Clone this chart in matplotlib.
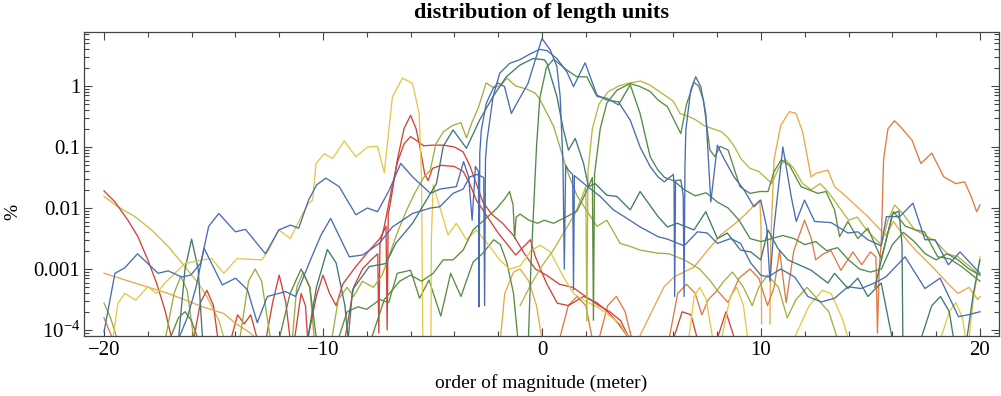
import numpy as np
import matplotlib
matplotlib.use("Agg")
import matplotlib.pyplot as plt
from matplotlib.ticker import FixedLocator, LogLocator, NullFormatter, FixedFormatter

plt.rcParams['font.family'] = ['Liberation Serif', 'DejaVu Serif']
plt.rcParams['mathtext.fontset'] = 'custom'
plt.rcParams['mathtext.rm'] = 'Liberation Serif'
plt.rcParams['mathtext.it'] = 'Liberation Serif:italic'

NAN = (np.nan, np.nan)

# each series: (order of magnitude, log10 of percent), NAN = gap where the share is zero
blue_a = [(-20.0, -4.03), (-19.5, -3.07), (-19.05, -2.98), (-18.47, -2.75), (-17.53, -3.07), (-17.07, -3.03),
          (-16.46, -3.13), (-16.04, -3.10), (-15.58, -2.9), (-15.22, -2.3), (-14.76, -2.09), (-14.0, -2.39),
          (-13.54, -2.35), (-12.63, -2.75), (-12.02, -2.36), (-11.49, -2.28), (-11.11, -2.33), (-10.66, -1.87),
          (-10.29, -1.62), (-9.87, -1.51), (-9.26, -1.65), (-8.5, -2.11), (-7.97, -2.0), (-7.51, -2.06),
          (-6.98, -1.71), (-6.45, -1.27), (-5.91, -1.49), (-5.09, -1.76), (-4.67, -1.69), (-3.91, -1.65),
          (-3.58, -1.24), (-3.35, -1.49), (-3.19, -2.2), (-3.04, -1.32), (-2.9, -1.4), (-2.87, -3.62),
          (-2.84, -1.1), (-2.77, -0.72), (-2.54, -0.28), (-2.23, -0.04), (-2.01, 0.05), (-1.71, -0.01),
          (-1.4, -0.45), (-1.02, -0.2), (-0.64, 0.04), (-0.26, 0.48), (0.0, 0.78), (0.38, 0.59), (0.68, 0.32),
          (0.83, -0.17), (0.96, -1.27), (1.02, -3.0), (1.08, -1.3), (1.21, -1.38), (1.4, -1.45), (1.44, -3.34),
          (1.48, -1.47), (2.05, -1.64), (2.66, -1.81), (3.26, -2.03), (3.88, -2.17), (4.48, -2.31), (5.3, -2.47),
          (5.73, -2.51), (6.49, -2.62), (7.1, -2.39), (7.55, -2.41), (8.01, -2.58), (8.62, -2.5), (9.07, -2.58),
          (9.53, -2.9), (9.99, -3.1), (10.32, -3.13), (10.9, -3.0), (11.54, -3.13), (12.14, -3.45), (12.75, -3.54),
          (13.36, -3.48), (13.97, -3.29), (14.57, -3.32), (15.18, -3.23), (15.7, -3.13), (16.58, -2.8),
          (17.49, -3.32), (18.18, -3.15), (19.02, -3.78), (19.47, -3.75), (20.0, -3.7)]

blue_b = [(-16.6, -4.15), (-16.2, -3.8), (-15.8, -3.3), (-15.43, -2.66), (-14.6, -3.26), (-13.99, -3.15),
          (-13.45, -3.34), (-13.0, -3.88), (-12.54, -3.45), (-11.71, -3.37), (-11.25, -3.45), (-10.57, -2.85),
          (-10.1, -2.45), (-9.65, -2.17), (-9.03, -2.63), (-8.8, -2.8), (-8.19, -2.77), (-7.43, -2.58),
          (-6.83, -2.31), (-5.91, -2.09), (-5.09, -2.0), (-4.67, -1.98), (-4.06, -1.76), (-3.6, -1.69),
          (-3.3, -1.49), (-2.95, -1.45), (-2.66, -1.5), (-2.62, -3.6), (-2.58, -1.2), (-2.51, -0.89),
          (-2.23, -0.17), (-1.93, 0.21), (-1.48, 0.37), (-1.02, 0.43), (-0.57, 0.52), (-0.11, 0.6), (0.23, 0.58),
          (0.68, 0.45), (1.14, 0.23), (1.44, -0.01), (1.97, 0.38), (2.51, -0.15), (2.96, -0.23), (3.49, -0.26),
          (4.03, -0.56), (4.48, -1.0), (4.94, -1.32), (5.3, -1.49), (5.58, -1.57), (6.0, -1.45), (6.03, -1.6),
          (6.06, -3.45), (6.1, -1.55), (6.34, -1.54), (6.45, -1.8), (6.49, -3.45), (6.53, -1.3), (6.57, -0.72),
          (6.79, -0.07), (7.02, 0.15), (7.25, -0.01), (7.48, -0.45), (7.71, -1.9), (8.01, -0.97), (8.31, -1.19),
          (8.77, -1.49), (9.22, -1.7), (9.68, -1.98), (9.99, -1.87), (10.26, -2.31), (10.41, -3.2), (10.6, -2.3),
          (11.0, -1.0), (11.38, -1.81), (11.61, -2.22), (11.99, -1.87), (12.45, -2.22), (13.21, -2.24),
          (13.97, -2.41), (14.42, -2.39), (14.88, -2.52), (15.49, -2.62), (15.73, -2.14), (16.34, -2.14),
          (16.94, -1.92), (17.49, -2.52), (17.95, -2.52), (18.56, -2.93), (19.09, -2.72), (20.0, -3.07)]

teal_a = [(-10.7, -4.15), (-10.3, -3.3), (-9.8, -2.68), (-9.4, -2.9), (-9.0, -3.6), (-8.85, -4.15),
          (-8.65, -3.34), (-7.89, -2.96), (-7.13, -2.91), (-6.68, -2.58), (-5.91, -2.25), (-5.46, -1.98),
          (-5.09, -1.76), (-4.82, -1.6), (-4.51, -0.99), (-4.06, -0.72), (-3.45, -1.02), (-2.85, -0.56),
          (-2.23, -0.17), (-1.63, 0.15), (-1.02, 0.34), (-0.41, 0.45), (0.1, 0.43), (0.23, 0.37), (0.68, -0.17),
          (0.98, -0.72), (1.21, -1.05), (1.52, -0.86), (1.9, -1.27), (2.12, -1.65), (2.43, -1.6), (2.96, -1.79),
          (3.42, -1.81), (4.03, -2.03), (4.48, -1.73), (4.86, -1.92), (5.3, -2.14), (5.73, -2.31), (6.18, -2.25),
          (6.94, -2.36), (7.48, -2.06), (8.01, -2.5), (8.46, -2.41), (9.07, -2.69), (9.53, -2.72), (9.99, -2.85),
          (10.32, -2.36), (10.77, -2.66), (11.23, -2.85), (12.29, -3.02), (13.06, -3.23), (13.36, -3.07),
          (13.97, -3.32), (14.42, -3.15), (14.88, -3.45), (15.49, -3.23), (16.0, -4.15)]

teal_b = [(-16.6, -4.15), (-16.3, -3.0), (-16.0, -2.51), (-15.7, -3.0), (-15.5, -4.15), NAN,
          (15.2, -3.3), (15.6, -2.7), (16.0, -2.1), (16.3, -2.05), (16.44, -2.6), (16.48, -4.15), NAN,
          (17.3, -4.15), (17.8, -3.6), (18.2, -3.45), (18.6, -3.7), (18.8, -4.15), NAN,
          (19.4, -4.15), (19.7, -3.4), (20.0, -2.85)]

green_a = [(-0.62, -4.15), (-0.5, -2.9), (-0.38, -2.0), (-0.25, -1.0), (-0.1, -0.2), (0.2, 0.3), (0.53, 0.44),
           (1.14, 0.26), (1.6, 0.15), (2.05, 0.15), (2.51, -0.17), (2.96, -0.2), (3.49, -0.31), (4.03, 0.02),
           (4.48, -0.45), (4.94, -1.16), (5.3, -1.38), (5.6, -1.5), (6.0, -1.55), (6.5, -1.7), (7.0, -1.8),
           (7.5, -1.75), (8.0, -1.9), (8.5, -2.0), (9.0, -2.2), (9.5, -2.5), (10.0, -2.55), (10.5, -2.5),
           (11.0, -2.45), (11.5, -2.5), (12.0, -2.6), (12.5, -2.55), (13.0, -2.7), (13.5, -2.65), (14.0, -2.85),
           (14.5, -3.0), (15.0, -3.05), (15.5, -3.0), (16.0, -2.6), (16.5, -2.4), (17.0, -2.55), (17.5, -2.75),
           (18.0, -2.85), (18.5, -2.75), (19.0, -2.85), (19.5, -3.0), (20.0, -3.1)]

green_b = [(-7.8, -4.15), (-7.2, -3.5), (-6.5, -3.2), (-6.0, -3.1), (-5.5, -3.2), (-4.97, -3.07), (-4.51, -2.85),
           (-4.06, -2.85), (-3.6, -2.69), (-3.15, -2.36), (-2.65, -2.2), (-2.1, -2.02), (-1.7, -1.85),
           (-1.48, -1.73), (-1.32, -1.95), (-1.25, -2.5), (-1.18, -2.15), (-1.0, -2.1), (-0.6, -2.2), (-0.2, -2.25),
           (0.1, -2.2), (0.53, -2.25), (1.14, -2.14), (1.6, -2.05), (2.0, -1.75), (2.3, -1.5), (2.35, -3.84),
           (2.4, -1.45), (2.46, -1.27), (2.66, -0.7), (2.96, -0.28), (3.42, -0.07), (4.03, 0.04), (4.48, -0.01),
           (4.94, -0.09), (5.3, -0.23), (5.73, -0.34), (6.34, -0.78), (6.6, -0.3), (6.94, 0.06), (7.15, 0.0),
           (7.37, -0.23), (7.67, -1.05), (7.9, -1.16), (8.13, -0.99), (8.5, -1.05), (9.04, -1.65), (9.5, -1.76),
           (9.95, -1.73), (10.32, -1.73), (10.6, -1.4), (10.93, -1.21), (11.3, -1.3), (11.83, -1.65),
           (12.6, -1.76), (12.97, -1.73), (13.36, -2.03), (13.59, -2.47), (13.97, -2.22), (14.42, -2.5),
           (14.88, -2.33), (15.49, -2.83), (16.05, -2.06), (16.6, -2.3), (17.08, -2.36), (17.46, -2.39),
           (18.07, -2.8), (18.6, -2.83), (19.16, -2.96), (20.0, -3.2)]

green_c = [(-9.3, -4.15), (-8.9, -3.7), (-8.4, -3.62), (-8.0, -3.66), (-7.4, -3.5), (-7.0, -3.55), (-6.61, -3.07),
           (-6.0, -3.02), (-5.59, -3.48), (-5.16, -3.18), (-4.62, -3.77), (-4.17, -3.07), (-3.7, -3.45),
           (-3.15, -2.89), (-2.7, -2.74), (-2.2, -2.52), (-1.9, -2.6), (-1.6, -2.9), (-1.3, -3.4), (-1.1, -4.15), NAN,
           (-17.0, -4.15), (-16.6, -3.8), (-16.3, -3.7), (-16.0, -3.85), (-15.7, -4.15), NAN,
           (-12.0, -4.15), (-11.5, -3.4), (-11.0, -3.0), (-10.6, -3.3), (-10.3, -4.15)]

olive_a = [(-9.6, -4.15), (-9.3, -3.5), (-8.9, -3.3), (-8.6, -3.45), (-8.2, -3.2), (-7.7, -3.3), (-7.3, -3.1),
           (-7.0, -2.8), (-6.6, -2.4), (-6.2, -2.05), (-5.8, -1.75), (-5.4, -1.5), (-5.1, -1.38), (-4.85, -0.95),
           (-4.5, -0.75), (-4.1, -0.65), (-3.7, -0.6), (-3.45, -0.85), (-3.2, -0.6), (-2.9, -0.35), (-2.55, 0.05),
           (-2.25, -0.02), (-1.9, 0.0), (-1.6, 0.13), (-1.2, 0.0), (-0.7, -0.05), (-0.3, -0.12), (-0.08, -0.23),
           (0.53, -0.66), (1.14, -1.38), (1.6, -1.8), (2.2, -2.13), (2.51, -2.3), (2.96, -2.2), (3.57, -2.58),
           (4.03, -2.63), (4.48, -2.69), (5.3, -2.74), (5.8, -2.75), (6.5, -2.85), (7.2, -3.0), (7.7, -3.2),
           (8.0, -3.35), (8.3, -3.2), (8.7, -3.05), (9.2, -3.3), (9.6, -3.6), (9.9, -3.3), (10.3, -3.1),
           (10.8, -3.3), (11.2, -3.8), (11.6, -3.5), (12.1, -3.3), (12.6, -3.5), (13.1, -3.7), (13.5, -4.15)]

olive_b = [(-1.0, -3.6), (-0.5, -3.25), (0.0, -2.95), (0.5, -2.7), (1.0, -2.4), (1.5, -2.1), (1.85, -1.8),
           (2.0, -1.65), (2.05, -3.85), (2.1, -1.4), (2.3, -0.7), (2.6, -0.3), (3.0, -0.1), (3.5, 0.0), (4.0, 0.05),
           (4.5, 0.08), (4.9, 0.02), (5.2, -0.05), (5.6, -0.15), (6.0, -0.25), (6.3, -0.45), (6.7, -0.5),
           (7.0, -0.55), (7.4, -0.65), (7.8, -0.7), (8.2, -0.75), (8.5, -0.85), (8.8, -1.0), (9.1, -1.2),
           (9.5, -1.35), (9.9, -1.4), (10.2, -1.5), (10.5, -1.6), (10.8, -1.35), (11.1, -1.2), (11.5, -1.35),
           (11.9, -1.6), (12.3, -1.7), (12.7, -1.6), (13.1, -1.75), (13.5, -1.95), (14.0, -2.2), (14.4, -2.15),
           (14.8, -2.35), (15.2, -2.5), (15.5, -2.6), (15.8, -2.2), (16.1, -1.95), (16.5, -2.1), (17.0, -2.35),
           (17.5, -2.45), (18.0, -2.55), (18.5, -2.75), (19.0, -2.8), (19.5, -2.95), (20.0, -3.1)]

olive_low = [(-20.0, -3.56), (-19.7, -3.8), (-19.4, -4.15), NAN,
             (-17.2, -4.15), (-16.8, -3.4), (-16.5, -3.12), (-16.2, -3.35), (-15.9, -4.15), NAN,
             (-13.8, -4.15), (-13.4, -3.2), (-13.1, -3.0), (-12.8, -3.2), (-12.4, -4.15), NAN,
             (-11.4, -4.15), (-11.2, -3.3), (-10.9, -3.05), (-10.6, -3.3), (-10.4, -4.15)]

yellow_a = [(-19.6, -4.15), (-19.36, -3.56), (-19.05, -3.4), (-18.55, -3.51), (-18.0, -3.29), (-17.6, -3.4),
            (-17.22, -3.23), (-16.31, -2.91), (-15.49, -2.85), (-15.08, -2.83), (-14.53, -3.07), (-13.93, -2.83),
            (-12.79, -2.85), (-12.48, -2.69), (-12.02, -2.36), (-11.49, -2.5), (-11.04, -2.17), (-10.66, -1.92),
            (-10.47, -1.87), (-10.32, -1.27), (-9.94, -1.11), (-9.56, -1.19), (-9.03, -0.9), (-8.5, -1.16),
            (-7.97, -1.0), (-7.51, -0.99), (-7.2, -1.42), (-6.83, -0.18), (-6.37, 0.13), (-5.91, 0.04),
            (-5.61, -0.45), (-5.5, -1.5), (-5.46, -3.4), (-5.44, -4.15), NAN,
            (-5.07, -4.15), (-5.05, -2.5), (-4.97, -1.62), (-4.67, -1.98), (-4.29, -2.44), (-3.91, -2.25),
            (-3.45, -2.52), (-3.0, -2.36), (-2.39, -2.63), (-1.93, -2.85), (-1.48, -3.0), (-1.0, -2.95),
            (-0.5, -2.7), (-0.08, -2.61), (0.38, -2.72), (0.98, -3.13), (1.44, -3.4), (1.9, -3.51), (2.51, -3.62),
            (2.96, -3.73), (3.57, -3.9), (4.0, -4.15)]

yellow_b = [(-20.0, -1.81), (-19.36, -1.98), (-18.59, -2.14), (-17.83, -2.36), (-17.07, -2.63), (-16.31, -2.96),
            (-15.7, -3.23), (-15.3, -3.45), (-14.76, -3.84), (-14.5, -4.15)]

yellow_c = [(6.7, -4.15), (6.95, -3.45), (7.2, -3.3), (7.5, -3.5), (7.8, -4.15), NAN,
            (8.2, -4.15), (8.6, -3.45), (8.9, -3.3), (9.2, -3.6), (9.4, -4.15), NAN,
            (11.5, -4.15), (12.2, -3.6), (12.8, -3.35), (13.2, -3.4), (13.7, -3.8), (14.0, -4.15), NAN,
            (18.2, -4.15), (18.6, -3.7), (18.9, -3.55), (19.2, -3.8), (19.35, -4.15), NAN,
            (19.5, -4.15), (19.7, -3.5), (20.0, -2.8)]

orange_a = [(-20.0, -3.07), (-18.59, -3.23), (-17.07, -3.4), (-15.49, -3.62), (-14.53, -3.73), (-14.0, -3.89),
            (-13.39, -4.03), (-13.0, -4.15), NAN,
            (-1.9, -4.15), (-1.7, -3.4), (-1.3, -3.05), (-1.0, -3.0), (-0.6, -3.2), (-0.25, -3.6), (0.0, -4.15), NAN,
            (4.4, -4.15), (5.12, -3.62), (5.58, -3.29), (6.03, -3.13), (6.94, -2.97), (7.55, -2.7), (8.16, -2.44),
            (8.77, -2.27), (9.3, -2.1), (9.7, -1.95), (9.95, -1.87), (10.0, -2.3), (10.03, -3.9), NAN,
            (10.41, -3.9), (10.45, -2.5), (10.6, -1.2), (10.9, -0.65), (11.3, -0.42), (11.6, -0.45), (11.9, -0.75),
            (12.29, -1.49), (12.52, -1.43), (13.06, -1.38), (13.36, -1.65), (13.82, -1.79), (14.3, -1.95),
            (14.88, -2.14), (15.3, -2.3), (15.7, -2.45), (16.05, -2.22), (16.6, -2.5), (17.08, -2.7),
            (17.84, -2.97), (18.6, -3.26), (19.0, -3.4), (19.5, -3.3), (19.9, -3.5), (20.0, -3.45)]

orange_b = [(-20.0, -3.8), (-19.6, -4.15), NAN,
            (0.8, -4.15), (1.2, -3.6), (1.6, -3.45), (2.0, -3.6), (2.3, -4.15), NAN,
            (2.6, -4.15), (3.0, -3.6), (3.4, -3.45), (3.8, -3.7), (4.1, -4.15), NAN,
            (5.8, -4.15), (6.2, -3.4), (6.6, -3.25), (7.0, -3.4), (7.3, -3.75), (7.6, -3.5), (8.0, -3.35),
            (8.5, -3.55), (9.0, -3.15), (9.5, -3.0), (9.9, -3.15), (10.3, -3.6), (10.6, -3.3), (10.85, -2.7),
            (11.15, -3.55), (11.5, -2.7), (11.99, -2.2), (12.3, -2.5), (12.5, -2.85), (12.85, -2.75), (13.2, -2.7),
            (13.65, -3.02), (14.2, -2.72), (14.6, -2.93), (15.0, -2.72), (15.25, -2.8), (15.32, -4.05), (15.4, -3.0),
            (15.5, -2.5), (15.6, -1.2), (15.8, -0.7), (16.1, -0.57), (16.4, -0.68), (16.9, -0.89), (17.3, -1.27),
            (17.8, -1.1), (18.35, -1.49), (18.9, -1.6), (19.3, -1.57), (19.6, -1.81), (19.85, -2.06), (20.0, -1.95)]

red_a = [(-10.7, -4.15), (-10.3, -3.44), (-10.0, -3.1), (-9.7, -3.4), (-9.4, -3.6), (-9.1, -3.25), (-8.5, -2.96),
         (-7.9, -2.7), (-7.4, -2.5), (-7.12, -2.3), (-7.07, -4.0), (-7.02, -2.1), (-6.9, -1.87), (-6.6, -1.2),
         (-6.3, -0.7), (-6.0, -0.48), (-5.75, -0.7), (-5.6, -0.95), (-5.35, -1.45), (-5.2, -1.55), (-5.0, -1.35),
         (-4.6, -1.3), (-4.0, -1.32), (-3.6, -1.4), (-3.3, -1.6), (-3.0, -1.87), (-2.5, -2.14), (-2.0, -2.41),
         (-1.2, -2.77), (-0.53, -2.52), (-0.3, -2.8), (0.2, -3.23), (0.7, -3.56), (1.2, -3.6), (1.9, -3.45),
         (2.5, -3.55), (3.0, -3.7), (3.5, -3.9), (4.0, -4.15)]

red_b = [(-9.0, -4.15), (-8.6, -3.3), (-8.2, -3.0), (-7.8, -2.85), (-7.5, -2.75), (-7.45, -4.05), (-7.4, -2.6),
         (-7.2, -2.3), (-6.9, -1.75), (-6.6, -1.25), (-6.3, -0.95), (-6.0, -0.83), (-5.7, -0.9), (-5.4, -0.98),
         (-5.0, -0.97), (-4.5, -0.97), (-4.0, -1.0), (-3.6, -1.08), (-3.3, -1.3), (-3.0, -1.6), (-2.7, -1.9),
         (-2.3, -2.1), (-1.8, -2.25), (-1.3, -2.45), (-0.8, -2.75), (-0.3, -3.0), (0.2, -3.1), (0.8, -3.25),
         (1.4, -3.3), (2.0, -3.45), (2.6, -3.6), (3.1, -3.7), (3.6, -3.85), (4.0, -4.15)]

red_c = [(-20.0, -1.72), (-19.5, -1.9), (-18.91, -2.2), (-18.45, -2.47), (-18.0, -2.85), (-17.6, -3.23),
         (-17.22, -3.67), (-17.0, -4.0), (-16.9, -4.15), NAN,
         (-15.9, -4.15), (-15.6, -3.55), (-15.3, -3.35), (-15.0, -3.6), (-14.8, -4.15), NAN,
         (-14.2, -4.15), (-13.9, -3.75), (-13.6, -3.9), (-13.3, -3.75), (-13.0, -4.15), NAN,
         (-12.6, -4.15), (-12.3, -3.55), (-12.0, -3.1), (-11.7, -3.55), (-11.5, -4.15), NAN,
         (-11.3, -4.15), (-11.0, -3.4), (-10.8, -3.6), (-10.7, -4.15), NAN,
         (6.0, -4.15), (6.4, -3.7), (6.8, -3.75), (7.1, -4.15), NAN,
         (8.0, -4.15), (8.4, -3.7), (8.8, -4.15)]

series = [
    (yellow_b, '#c8be4c'), (red_c, '#d2423a'), (orange_a, '#e9a84a'), (orange_b, '#de7b45'),
    (olive_low, '#9aad3e'), (yellow_c, '#e4c84a'), (teal_b, '#3e7a72'), (green_c, '#5b8c3f'),
    (red_a, '#d2423a'), (red_b, '#d2423a'), (yellow_a, '#e4c84a'), (olive_a, '#a2b03f'),
    (olive_b, '#b4b83f'), (green_b, '#5b8c3f'), (teal_a, '#3e7a72'), (green_a, '#4f8a4a'),
    (blue_b, '#4a6cb3'), (blue_a, '#4a6cb3'),
]

fig = plt.figure(figsize=(10.01, 3.96), dpi=100)
ax = fig.add_axes([84.3 / 1001, 1 - 335.7 / 396, (999 - 84.3) / 1001, (335.7 - 31.7) / 396])

for data, color in series:
    arr = np.array(data, dtype=float)
    ax.plot(arr[:, 0], 10 ** arr[:, 1], color=color, lw=0.95, solid_joinstyle='round')

ax.set_yscale('log')
ax.set_xlim(-20.9, 20.87)
ax.set_ylim(10 ** -4.093, 10 ** 0.89)

ax.xaxis.set_major_locator(FixedLocator([-20, -10, 0, 10, 20]))
ax.xaxis.set_major_formatter(FixedFormatter(['\u221220', '\u221210', '0', '10', '20']))
ax.xaxis.set_minor_locator(FixedLocator(np.arange(-20, 21, 2)))
ax.yaxis.set_major_locator(FixedLocator([1e-4, 1e-3, 1e-2, 1e-1, 1]))
ax.yaxis.set_major_formatter(FixedFormatter(['$10^{\u22124}$', '0.001', '0.01', '0.1', '1']))
ax.yaxis.set_minor_locator(LogLocator(base=10, subs=np.arange(2, 10), numticks=20))
ax.yaxis.set_minor_formatter(NullFormatter())

ax.tick_params(which='both', direction='in', top=True, right=True, color='#444444', width=0.8)
ax.tick_params(which='major', length=6, labelsize=15, pad=4)
ax.tick_params(which='minor', length=3.5)
ax.tick_params(axis='y', which='major', pad=3)
for s in ax.spines.values():
    s.set_color('#444444')
    s.set_linewidth(0.9)

fig.text(0.541, 0.967, 'distribution of length units', ha='center', va='center',
         fontsize=16, fontweight='bold')
fig.text(0.541, 0.033, 'order of magnitude (meter)', ha='center', va='center', fontsize=14)
fig.text(0.013, 0.465, '%', ha='center', va='center', rotation=90, fontsize=14)

fig.savefig('out.png', dpi=100)
